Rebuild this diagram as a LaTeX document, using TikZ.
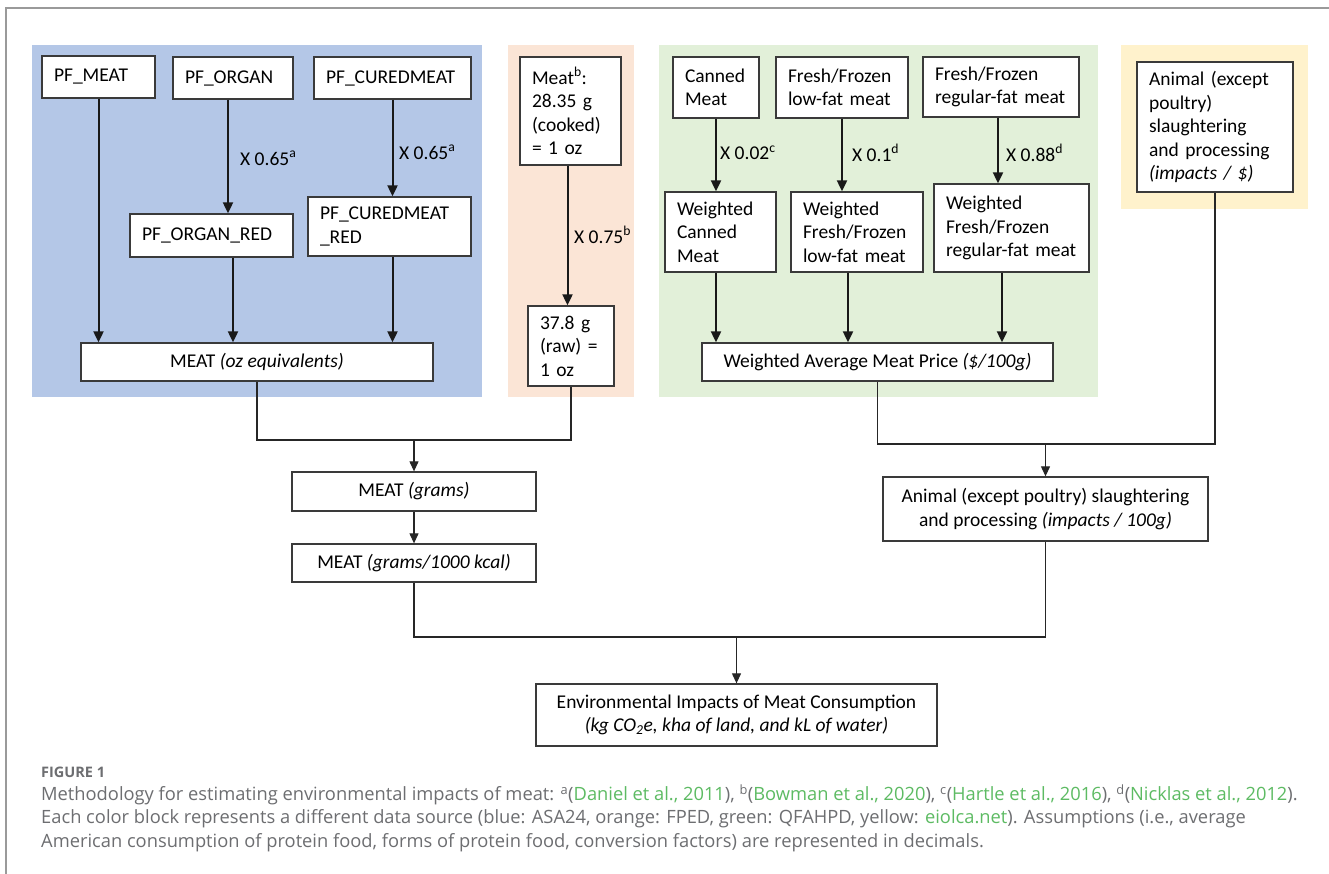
\documentclass[tikz,border=0pt]{standalone}
\usepackage{fontspec}
\setmainfont{Carlito}
\newfontfamily\capfont{Open Sans}
\usetikzlibrary{arrows.meta,calc}
\definecolor{cblue}{HTML}{B4C7E7}
\definecolor{corange}{HTML}{FBE5D6}
\definecolor{cgreen}{HTML}{E2F0D9}
\definecolor{cyellow}{HTML}{FFF2CC}
\definecolor{capgray}{HTML}{6D6E71}
\definecolor{lnk}{HTML}{5DBB63}
\definecolor{framegray}{HTML}{9A9A9A}
\definecolor{edgecol}{HTML}{3A3A3A}
\begin{document}
\begin{tikzpicture}[x=1pt,y=-1pt,
  box/.style={draw=edgecol, line width=1.3pt, fill=white, inner sep=0pt, font=\fontsize{19.5}{23.5}\selectfont},
  lbox/.style={box, align=left, inner xsep=12pt},
  cbox/.style={box, align=center},
  conn/.style={draw=black!85, line width=1.1pt},
  arr/.style={draw=black!90, line width=2pt, -{Triangle[length=11pt,width=10pt]}},
  larr/.style={conn, -{Triangle[length=10pt,width=9pt]}},
  lab/.style={anchor=west, inner sep=0pt, font=\fontsize{19.5}{23.5}\selectfont},
  captext/.style={anchor=west, inner sep=0pt, text=capgray, font=\capfont\fontsize{18.3}{20}\selectfont}
]
\useasboundingbox (0,0) rectangle (1329,874);
\fill[white] (0,0) rectangle (1329,874);
\draw[framegray, line width=2pt] (6,874) -- (6,8) -- (1329,8);

% colour blocks
\fill[cblue] (32,45) rectangle (482,397);
\fill[corange] (508,45) rectangle (634,397);
\fill[cgreen] (659,45) rectangle (1098,397);
\fill[cyellow] (1121,45) rectangle (1308,209);

% blue block
\node[lbox, minimum width=113, minimum height=42, text width=89] (pfmeat) at (98.5,77) {PF\_MEAT};
\node[lbox, minimum width=120, minimum height=42, text width=96] (pforgan) at (233,78) {PF\_ORGAN};
\node[lbox, minimum width=157, minimum height=42, text width=133] (pfcured) at (392.5,78) {PF\_CUREDMEAT};
\node[lbox, minimum width=163, minimum height=43, text width=139] (pforganred) at (211.5,235.5) {PF\_ORGAN\_RED};
\node[lbox, minimum width=163, minimum height=59, text width=139] (pfcuredred) at (389.5,226.5) {PF\_CUREDMEAT\\\_RED};
\node[cbox, minimum width=352, minimum height=38] (meatoz) at (257,362) {MEAT \textit{(oz equivalents)}};

% orange block
\node[lbox, minimum width=101, minimum height=108, text width=77] (meatb) at (570.5,111) {Meat\textsuperscript{b}:\\28.35 g\\(cooked)\\= 1 oz};
\node[lbox, minimum width=86, minimum height=80, text width=62] (raw) at (571,346) {37.8 g\\(raw) =\\1 oz};

% green block
\node[lbox, minimum width=86, minimum height=61, text width=62] (canned) at (716,87.5) {Canned\\Meat};
\node[lbox, minimum width=132, minimum height=61, text width=108] (lowfat) at (842,87.5) {Fresh/Frozen\\low-fat meat};
\node[lbox, minimum width=156, minimum height=60, text width=132] (regfat) at (1001,87) {Fresh/Frozen\\regular-fat meat};
\node[lbox, minimum width=111, minimum height=80, text width=87] (wcanned) at (720.5,232) {Weighted\\Canned\\Meat};
\node[lbox, minimum width=132, minimum height=80, text width=108] (wlowfat) at (857,232) {Weighted\\Fresh/Frozen\\low-fat meat};
\node[lbox, minimum width=155, minimum height=88, text width=131] (wregfat) at (1011.5,228) {Weighted\\Fresh/Frozen\\regular-fat meat};
\node[cbox, minimum width=351, minimum height=38] (wavg) at (877.5,362) {Weighted Average Meat Price \textit{(\$/100g)}};

% yellow block
\node[lbox, minimum width=156, minimum height=130, text width=132] (animal) at (1215,127) {Animal (except\\poultry)\\slaughtering\\and processing\\\textit{(impacts / \$)}};

% lower boxes
\node[cbox, minimum width=244, minimum height=39] (grams) at (414,491.5) {MEAT \textit{(grams)}};
\node[cbox, minimum width=244, minimum height=38] (kcal) at (414,563) {MEAT \textit{(grams/1000 kcal)}};
\node[cbox, minimum width=325, minimum height=64] (animal100) at (1045.5,509) {Animal (except poultry) slaughtering\\and processing \textit{(impacts / 100g)}};
\node[cbox, minimum width=401, minimum height=62] (env) at (736.5,715) {Environmental Impacts of Meat Consumption\\\textit{(kg CO\textsubscript{2}e, kha of land, and kL of water)}};

% labels
\node[lab] (l1) at (240,158) {X 0.65\textsuperscript{a}};
\node[lab] (l2) at (399,152) {X 0.65\textsuperscript{a}};
\node[lab] (l3) at (574,235) {X 0.75\textsuperscript{b}};
\node[lab] (l4) at (720,153) {X 0.02\textsuperscript{c}};
\node[lab] (l5) at (852,153) {X 0.1\textsuperscript{d}};
\node[lab] (l6) at (1006,153) {X 0.88\textsuperscript{d}};

% helper coordinates
\coordinate (o1) at ([xshift=-5pt]pforgan.south);
\coordinate (o2) at ([xshift=-3pt]meatb.south);
\coordinate (o3) at ([xshift=-3pt]regfat.south);
\coordinate (x848) at (848,0);
\coordinate (x1002) at (1002,0);
\coordinate (j1) at (414,440);
\coordinate (j2) at (1045.5,444);
\coordinate (j3) at (736.5,637);

% blue arrows
\draw[arr] (pfmeat.south) -- (pfmeat.south |- meatoz.north);
\draw[arr] (o1) -- (o1 |- pforganred.north);
\draw[arr] (pforgan.south |- pforganred.south) -- (pforgan.south |- meatoz.north);
\draw[arr] (pfcured.south) -- (pfcured.south |- pfcuredred.north);
\draw[arr] (pfcured.south |- pfcuredred.south) -- (pfcured.south |- meatoz.north);

% orange arrow
\draw[arr] (o2) -- (o2 |- raw.north);

% green arrows
\draw[arr] (canned.south) -- (canned.south |- wcanned.north);
\draw[arr] (lowfat.south) -- (lowfat.south |- wlowfat.north);
\draw[arr] (o3) -- (o3 |- wregfat.north);
\draw[arr] (canned.south |- wcanned.south) -- (canned.south |- wavg.north);
\draw[arr] (x848 |- wlowfat.south) -- (x848 |- wavg.north);
\draw[arr] (x1002 |- wregfat.south) -- (x1002 |- wavg.north);

% lower connectors
\draw[conn] (meatoz.south) |- (raw.south |- j1) -- (raw.south);
\draw[larr] (j1 -| grams.north) -- (grams.north);
\draw[larr] (grams.south) -- (kcal.north);
\draw[conn] (wavg.south) |- (animal.south |- j2) -- (animal.south);
\draw[larr] (j2 -| animal100.north) -- (animal100.north);
\draw[conn] (kcal.south) |- (animal100.south |- j3) -- (animal100.south);
\draw[larr] (j3 -| env.north) -- (env.north);

% caption
\node[captext, font=\capfont\bfseries\fontsize{14.5}{20}\selectfont] (fig) at (41,772) {FIGURE 1};
\node[captext] (c1) at (41,795) {Methodology for estimating environmental impacts of meat: \textsuperscript{a}(\textcolor{lnk}{Daniel et al., 2011}), \textsuperscript{b}(\textcolor{lnk}{Bowman et al., 2020}), \textsuperscript{c}(\textcolor{lnk}{Hartle et al., 2016}), \textsuperscript{d}(\textcolor{lnk}{Nicklas et al., 2012}).};
\node[captext] (c2) at (41,819) {Each color block represents a different data source (blue: ASA24, orange: FPED, green: QFAHPD, yellow: \textcolor{lnk}{eiolca.net}). Assumptions (i.e., average};
\node[captext] (c3) at (41,843) {American consumption of protein food, forms of protein food, conversion factors) are represented in decimals.};
\end{tikzpicture}
\end{document}
